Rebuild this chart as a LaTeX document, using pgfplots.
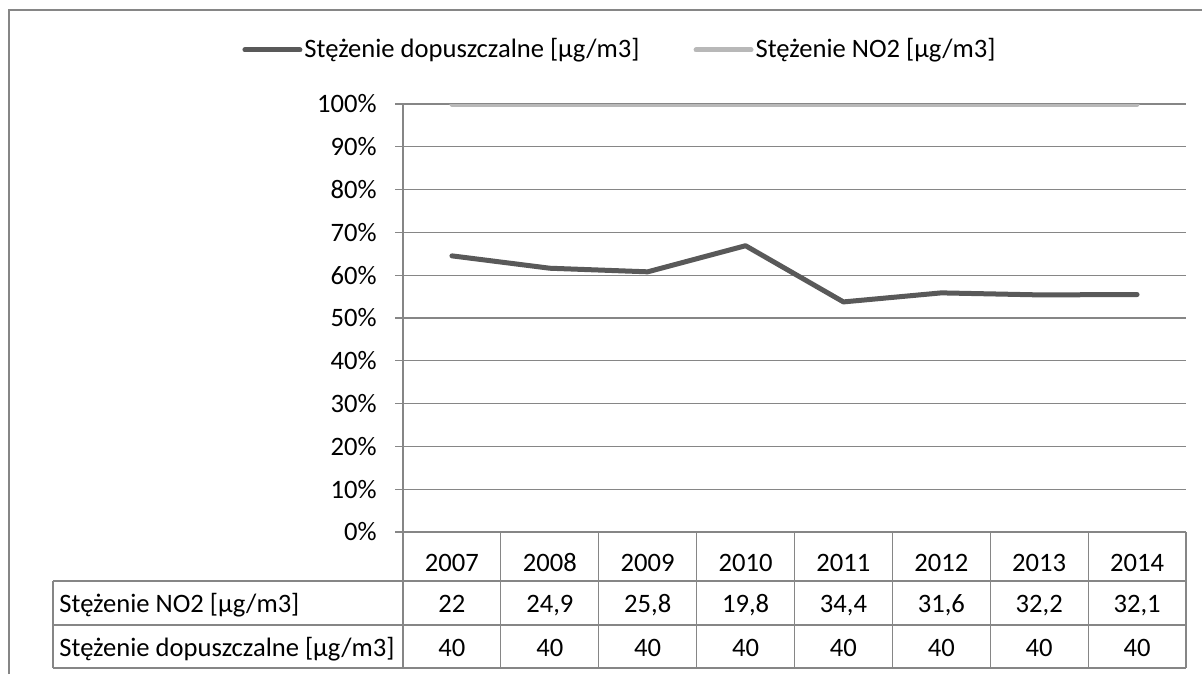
\documentclass[border=0pt]{standalone}
\usepackage{fontspec}
\setmainfont{Carlito}
\usepackage{pgfplots}
\usepackage{pgfplotstable}
\pgfplotsset{compat=1.18}

\definecolor{darkln}{RGB}{89,89,89}
\definecolor{lightln}{RGB}{184,184,184}
\definecolor{gridc}{RGB}{134,134,134}

% idx, raw values (ug/m3) and the 100% stacked shares
\pgfplotstableread{
idx year no2  lim dop   top
0   2007 22   40  64.52 100
1   2008 24.9 40  61.63 100
2   2009 25.8 40  60.79 100
3   2010 19.8 40  66.89 100
4   2011 34.4 40  53.76 100
5   2012 31.6 40  55.87 100
6   2013 32.2 40  55.40 100
7   2014 32.1 40  55.48 100
}\data

\begin{document}
\fontsize{13.3}{16}\selectfont
\begin{tikzpicture}
\begin{scope}[x=0.5pt,y=-0.5pt]
  \path[use as bounding box] (0,0) rectangle (1202,674);
  \draw[gridc, line width=0.75pt] (9,674) -- (9,10) -- (1202,10);
\end{scope}

\begin{axis}[
    at={(201.5pt,-266pt)}, anchor=south west,
    scale only axis, width=391.5pt, height=214pt,
    xmin=-0.5, xmax=7.5, ymin=0, ymax=100,
    axis x line*=bottom, axis y line*=left,
    axis line style={gridc, line width=0.6pt},
    xtick={0,...,7},
    xticklabels={2007,2008,2009,2010,2011,2012,2013,2014},
    xtick style={draw=none},
    xticklabel style={anchor=base, inner sep=0pt, yshift=-15.5pt},
    ytick={0,10,...,100},
    yticklabels={0\%,10\%,20\%,30\%,40\%,50\%,60\%,70\%,80\%,90\%,100\%},
    ytick style={gridc, line width=0.6pt},
    tick align=outside, major tick length=4pt,
    yticklabel style={anchor=east, inner sep=0pt, xshift=-9pt},
    ymajorgrids, grid style={gridc, line width=0.6pt},
    legend columns=2,
    legend style={at={(-0.2056,1.1262)}, anchor=west, draw=none, fill=none,
        inner sep=0pt, nodes={inner sep=0pt, anchor=west},
        /tikz/every even column/.append style={column sep=27pt},
        /tikz/every odd column/.append style={column sep=1pt}},
    legend image code/.code={\draw[#1] (0pt,0pt) -- (27.5pt,0pt);},
]
\addplot[darkln, line width=2.5pt, line join=round, line cap=round]
    table[x=idx, y=dop] {\data};
\addlegendentry{Stężenie dopuszczalne [µg/m3]}
\addplot[lightln, line width=2.5pt, line join=round, line cap=round]
    table[x=idx, y=top] {\data};
\addlegendentry{Stężenie NO2 [µg/m3]}
\end{axis}

% data table under the chart
\begin{scope}[x=0.5pt,y=-0.5pt]
  \draw[gridc, line width=0.6pt]
      (53,581) -- (1186,581) (53,625) -- (1186,625) (53,668) -- (1186,668)
      (53,581) -- (53,668);
  \foreach \k in {0,...,8}
    \draw[gridc, line width=0.6pt] (403+\k*97.875,532) -- (403+\k*97.875,668);
  \node[anchor=base west, inner sep=0pt] at (59,612) {Stężenie NO2 [µg/m3]};
  \node[anchor=base west, inner sep=0pt] at (59,656) {Stężenie dopuszczalne [µg/m3]};
  \foreach \v [count=\i from 0] in {22,{24,9},{25,8},{19,8},{34,4},{31,6},{32,2},{32,1}}
    \node[anchor=base, inner sep=0pt] at (451.94+\i*97.875,612) {\v};
  \foreach \i in {0,...,7}
    \node[anchor=base, inner sep=0pt] at (451.94+\i*97.875,656) {40};
\end{scope}
\end{tikzpicture}
\end{document}
